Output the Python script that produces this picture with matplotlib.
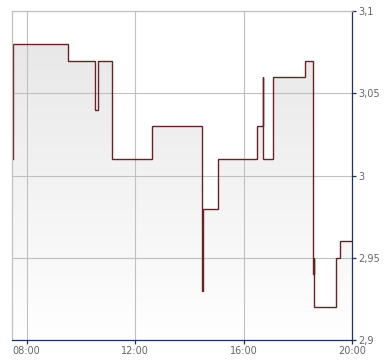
import matplotlib
matplotlib.use("Agg")
import matplotlib.pyplot as plt
import numpy as np
from matplotlib.patches import Polygon

times = ["07:30", "07:30", "09:32", "10:30", "10:38", "11:09", "12:38", "14:28",
         "14:29", "15:04", "16:30", "16:43", "16:43", "17:05", "18:16", "18:34",
         "18:36", "18:36", "19:24", "19:33", "20:00"]
prices = [3.01, 3.08, 3.07, 3.04, 3.07, 3.01, 3.03, 2.93,
          2.98, 3.01, 3.03, 3.06, 3.01, 3.06, 3.07, 2.94,
          2.95, 2.92, 2.95, 2.96, 2.96]
x_ticks = [8, 12, 16, 20]
x_tick_labels = ["08:00", "12:00", "16:00", "20:00"]
y_ticks = [2.9, 2.95, 3.0, 3.05, 3.1]
y_tick_labels = ["2,9", "2,95", "3", "3,05", "3,1"]

def to_h(t):
    h, m = t.split(":")
    return int(h) + int(m) / 60.0

x = np.array([to_h(t) for t in times])
y = np.array(prices)

fig = plt.figure(figsize=(3.9, 3.64), dpi=100)
ax = fig.add_axes([12.3 / 390, 24 / 364, 340 / 390, 328.7 / 364])
xmin, xmax = 7.47, 20.0
ymin, ymax = 2.9, 3.1
ax.set_xlim(xmin, xmax)
ax.set_ylim(ymin, ymax)

# step path
sx, sy = [x[0]], [y[0]]
for i in range(1, len(x)):
    sx.append(x[i]); sy.append(y[i - 1])
    sx.append(x[i]); sy.append(y[i])

# gradient fill
grad = np.linspace(0, 1, 256).reshape(-1, 1)
c_top = np.array([0.90, 0.90, 0.90])
c_bot = np.array([1.0, 1.0, 1.0])
img = c_bot + (c_top - c_bot) * grad
img = np.repeat(img[:, None, :], 2, axis=1).reshape(256, 2, 3)
im = ax.imshow(img, extent=[xmin, xmax, ymin, ymax], origin="lower",
               aspect="auto", zorder=1)
poly = Polygon(list(zip(sx, sy)) + [(sx[-1], ymin), (sx[0], ymin)],
               closed=True, facecolor="none", edgecolor="none")
ax.add_patch(poly)
im.set_clip_path(poly)

ax.plot(sx, sy, color="#6b2026", lw=1.0, zorder=3, solid_joinstyle="miter")

ax.set_xticks(x_ticks)
ax.set_xticklabels(x_tick_labels)
ax.set_yticks(y_ticks)
ax.set_yticklabels(y_tick_labels)
ax.yaxis.tick_right()
ax.grid(True, color="#c0c0c0", lw=0.8, zorder=2)
ax.set_axisbelow(False)
for l in ax.get_xgridlines() + ax.get_ygridlines():
    l.set_zorder(2)

navy = "#1c3461"
ax.spines["right"].set_color(navy)
ax.spines["bottom"].set_color(navy)
ax.spines["left"].set_color("#c0c0c0")
ax.spines["top"].set_color("#c0c0c0")
for s in ax.spines.values():
    s.set_linewidth(0.9)
    s.set_zorder(4)

ax.tick_params(axis="y", direction="out", length=3, width=0.9, color=navy,
               labelsize=7, labelcolor="#666666", pad=1)
ax.tick_params(axis="x", direction="out", length=3, width=0.9, color=navy,
               labelsize=7, labelcolor="#666666", pad=1.5)

fig.savefig("out.png", dpi=100)
